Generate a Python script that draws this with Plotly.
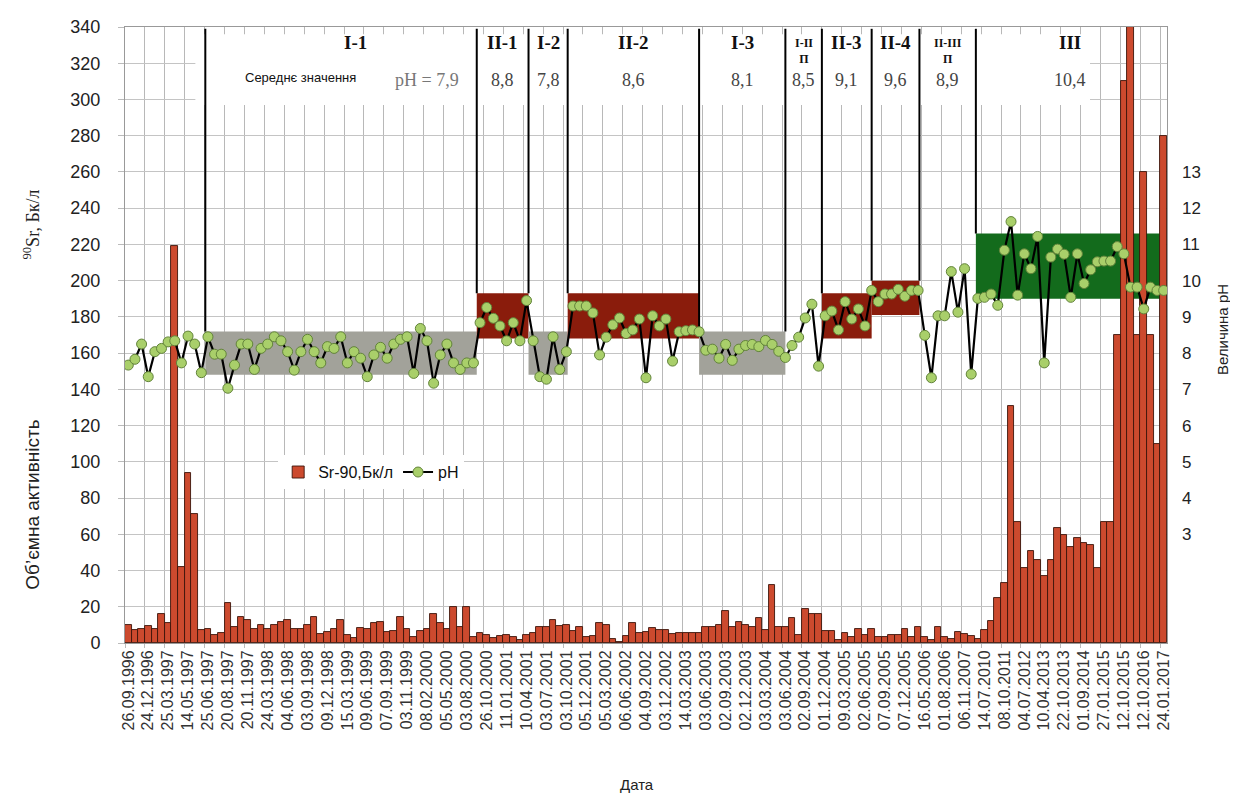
import plotly.graph_objects as go

# ---------------- data ----------------
tick_labels = [
    "26.09.1996", "24.12.1996", "25.03.1997", "14.05.1997", "25.06.1997", "20.08.1997",
    "20.11.1997", "24.03.1998", "04.06.1998", "03.09.1998", "09.12.1998", "15.03.1999",
    "09.06.1999", "07.09.1999", "03.11.1999", "08.02.2000", "05.05.2000", "03.08.2000",
    "26.10.2000", "11.01.2001", "10.04.2001", "03.07.2001", "03.10.2001", "05.12.2001",
    "05.03.2002", "06.06.2002", "04.09.2002", "03.12.2002", "14.03.2003", "03.06.2003",
    "02.09.2003", "02.12.2003", "03.03.2004", "03.06.2004", "02.09.2004", "01.12.2004",
    "09.03.2005", "02.06.2005", "07.09.2005", "07.12.2005", "16.05.2006", "01.08.2006",
    "06.11.2007", "14.07.2010", "08.10.2011", "04.07.2012", "10.04.2013", "22.10.2013",
    "01.09.2014", "27.01.2015", "12.10.2015", "12.10.2016", "24.01.2017",
]
label_step = 3  # one date label every 3 samples

sr90 = [
    10, 7, 8, 9.6, 7.5, 16, 11, 219, 42, 94, 71, 7,
    8, 4.4, 5.7, 22, 9, 14.5, 12.7, 7.7, 9.7, 8, 9.9, 11.8,
    12.7, 7.7, 7.7, 9.9, 14.5, 5, 6.3, 8, 12.7, 4.4, 3, 8.5,
    8, 10.9, 11.6, 6.3, 6.8, 14.5, 7.7, 3.5, 6.8, 8, 16, 10.9,
    7.7, 20, 9, 20, 3.5, 5.7, 4.4, 2.6, 3.9, 4.4, 3.1, 1.7,
    4.4, 5.7, 8.6, 8.6, 12.7, 9.4, 9.9, 6.8, 8.6, 3.1, 3.9, 10.9,
    9.9, 2.2, 0.7, 3.9, 10.9, 5.7, 6.3, 8.1, 7.2, 7.2, 5, 5.7,
    5.3, 5.7, 5.3, 8.6, 8.6, 9.8, 17.8, 8.6, 11.6, 9.9, 8.6, 13.6,
    7.2, 32, 9, 9, 13.6, 4.4, 18.6, 16, 16, 6.8, 6.8, 1.7,
    5.7, 3.1, 7.5, 4.4, 7.5, 3.5, 3.5, 4.4, 4.4, 7.5, 3.5, 8.6,
    3.1, 1.7, 8.6, 3.1, 2, 6, 5, 4, 2, 7, 12, 25,
    33, 131, 67, 41.5, 51, 46, 37, 46, 63.5, 59.6, 53, 57.7,
    55, 54, 41.5, 67, 67, 170, 310, 340, 170, 260, 170, 110, 280,
]

ph = [
    7.67, 7.83, 8.25, 7.35, 8.04, 8.13, 8.31, 8.34, 7.73, 8.47, 8.25, 7.46,
    8.45, 7.97, 7.97, 7.03, 7.67, 8.25, 8.25, 7.55, 8.13, 8.25, 8.45, 8.34,
    8.04, 7.53, 8.04, 8.38, 8.04, 7.73, 8.18, 8.13, 8.45, 7.73, 8.04, 7.86,
    7.35, 7.95, 8.16, 7.86, 8.25, 8.38, 8.45, 7.44, 8.68, 8.34, 7.17, 7.95,
    8.25, 7.73, 7.55, 7.73, 7.73, 8.84, 9.26, 8.96, 8.75, 8.34, 8.84, 8.34,
    9.45, 8.34, 7.35, 7.28, 8.45, 7.55, 8.04, 9.30, 9.30, 9.30, 9.11, 7.95,
    8.44, 8.78, 8.97, 8.54, 8.64, 8.94, 7.32, 9.03, 8.75, 8.94, 7.78, 8.59,
    8.62, 8.64, 8.59, 8.08, 8.11, 7.86, 8.24, 7.80, 8.11, 8.21, 8.24, 8.18,
    8.35, 8.24, 8.05, 7.88, 8.21, 8.44, 8.97, 9.35, 7.64, 9.03, 9.16, 8.64,
    9.42, 8.94, 9.22, 8.75, 9.73, 9.42, 9.63, 9.63, 9.76, 9.57, 9.73, 9.73,
    8.49, 7.32, 9.03, 9.03, 10.25, 9.13, 10.33, 7.42, 9.51, 9.54, 9.63, 9.32,
    10.84, 11.63, 9.60, 10.74, 10.33, 11.22, 7.73, 10.65, 10.87, 10.73, 9.54, 10.74,
    9.92, 10.30, 10.52, 10.54, 10.54, 10.94, 10.74, 9.82, 9.82, 9.22, 9.82, 9.73, 9.73,
]

# zones: names, mean pH, boundaries (in sample-index units)
zone_names = ["I-1", "II-1", "I-2", "II-2", "I-3", "I-II<br>П", "II-3", "II-4", "II-III<br>П", "III"]
zone_means = ["7,9", "8,8", "7,8", "8,6", "8,1", "8,5", "9,1", "9,6", "8,9", "10,4"]
zone_edges = [11.6, 52.5, 60.3, 66.2, 86.0, 99.0, 104.5, 112.0, 119.2, 127.7, 155.7]
# pH band per zone (None = no band): (low, high, colour)
GREY, RED, GREEN = "#a2a29a", "#8a1c0c", "#136b1c"
zone_bands = [(7.4, 8.6, GREY), (8.4, 9.65, RED), (7.4, 8.6, GREY), (8.4, 9.65, RED),
              (7.4, 8.6, GREY), None, (8.4, 9.65, RED), (9.05, 10.0, RED), None,
              (9.5, 11.3, GREEN)]
# lower end of each divider line (pH units)
divider_bottoms = [8.6, 9.65, 9.65, 9.65, 8.6, 8.6, 9.65, 10.0, 10.0, 11.3]

SR_RANGE = [0, 340]
PH_RANGE = [0, 17]
K = (SR_RANGE[1] - SR_RANGE[0]) / (PH_RANGE[1] - PH_RANGE[0])  # pH -> left-axis units

x = list(range(len(sr90)))
SANS = "Liberation Sans"
SERIF = "Liberation Serif"

fig = go.Figure()
fig.add_trace(go.Bar(
    x=x, y=sr90, name="Sr-90,Бк/л",
    marker=dict(color="#cc4a2e", line=dict(color="#3c140a", width=0.9)),
    yaxis="y",
))
fig.add_trace(go.Scatter(
    x=x, y=ph, name="pH", mode="lines+markers", yaxis="y2",
    line=dict(color="black", width=2.2),
    marker=dict(size=10, color="#a9cf6a", line=dict(color="#62833a", width=1)),
))

shapes = []
# white label strip at the top
shapes.append(dict(type="rect", xref="x", yref="y", x0=10.1, x1=144.9, y0=14.85 * K, y1=16.8 * K,
                   fillcolor="white", line=dict(width=0), layer="between"))
# pH bands
for i, band in enumerate(zone_bands):
    if band is None:
        continue
    lo, hi, col = band
    shapes.append(dict(type="rect", xref="x", yref="y",
                       x0=zone_edges[i], x1=zone_edges[i + 1], y0=lo * K, y1=hi * K,
                       fillcolor=col, line=dict(width=0), layer="between"))
# divider lines
for edge, bottom in zip(zone_edges[:-1], divider_bottoms):
    shapes.append(dict(type="line", xref="x", yref="y", x0=edge, x1=edge, y0=bottom * K, y1=16.95 * K,
                       line=dict(color="black", width=2), layer="between"))

annotations = []
for i, (nm, mv) in enumerate(zip(zone_names, zone_means)):
    xc = (zone_edges[i] + zone_edges[i + 1]) / 2
    if i == len(zone_names) - 1:
        xc = (zone_edges[i] + len(x) - 1) / 2
    small = "<br>" in nm
    if i == 0:
        xc = 34.2
    annotations.append(dict(
        x=xc, y=(16.35 if small else 16.58) * K, xref="x", yref="y", showarrow=False,
        text="<b>%s</b>" % nm,
        font=dict(family=SERIF, size=12 if small else 19, color="#111"),
        yanchor="middle", xanchor="center"))
    if i == 0:
        annotations.append(dict(x=45.0, y=15.53 * K, xref="x", yref="y", showarrow=False,
                                text="pH = " + mv, font=dict(family=SERIF, size=18, color="#777")))
        annotations.append(dict(x=25.9, y=15.6 * K, xref="x", yref="y", showarrow=False,
                                text="Середнє значення", font=dict(family=SANS, size=13, color="#111")))
    else:
        annotations.append(dict(x=xc, y=15.53 * K, xref="x", yref="y", showarrow=False,
                                text=mv, font=dict(family=SERIF, size=18, color="#444")))

# axis titles
annotations += [
    dict(x=-0.0895, y=0.224, xref="paper", yref="paper", showarrow=False, textangle=-90,
         xanchor="center", yanchor="middle",
         text="Об’ємна активність", font=dict(family=SANS, size=19, color="#222")),
    dict(x=-0.0895, y=0.679, xref="paper", yref="paper", showarrow=False, textangle=-90,
         xanchor="center", yanchor="middle",
         text="<sup>90</sup>Sr, Бк/л", font=dict(family=SERIF, size=18, color="#222")),
    dict(x=1.0528, y=0.508, xref="paper", yref="paper", showarrow=False, textangle=-90,
         xanchor="center", yanchor="middle",
         text="Величина pH", font=dict(family=SANS, size=15, color="#222")),
    dict(x=0.491, y=-0.2305, xref="paper", yref="paper", showarrow=False,
         xanchor="center", yanchor="middle",
         text="Дата", font=dict(family=SANS, size=15, color="#222")),
]

# the page body has an 8px margin, so the figure is 8px smaller and margins shifted
fig.update_layout(
    width=1230, height=788,
    margin=dict(l=117, r=71, t=19, b=153, autoexpand=False),
    paper_bgcolor="white", plot_bgcolor="white",
    bargap=0,
    showlegend=True,
    legend=dict(orientation="h", x=0.147, y=0.305, xanchor="left", yanchor="top",
                bgcolor="white", borderwidth=0, font=dict(family=SANS, size=16, color="#111"),
                itemwidth=30),
    xaxis=dict(
        range=[-0.5, len(x) - 0.5], automargin=False,
        tickmode="array",
        tickvals=[label_step * i for i in range(len(tick_labels))],
        ticktext=tick_labels, tickangle=-90,
        tickfont=dict(family=SANS, size=16, color="#333"),
        showgrid=False, zeroline=False,
        showline=True, linecolor="#999", mirror=True, ticks="",
        minor=dict(tickmode="linear", tick0=-0.5, dtick=label_step, showgrid=True,
                   gridcolor="#b8b8b8", gridwidth=1, ticks="outside", ticklen=4, tickcolor="#bbb"),
    ),
    yaxis=dict(
        range=SR_RANGE, dtick=20, automargin=False,
        tickfont=dict(family=SANS, size=18, color="#222"),
        showgrid=True, gridcolor="#c4c4c4", gridwidth=1, zeroline=False,
        showline=True, linecolor="#999", mirror=True,
        ticks="outside", ticklen=6, tickcolor="#bbb", ticklabelstandoff=14,
    ),
    yaxis2=dict(
        overlaying="y", side="right", range=PH_RANGE, automargin=False,
        tickvals=list(range(3, 14)), tickfont=dict(family=SANS, size=17, color="#222"),
        showgrid=False, zeroline=False, ticks="", ticklabelstandoff=14,
    ),
    shapes=shapes,
    annotations=annotations,
)

fig.write_html("out.html")
